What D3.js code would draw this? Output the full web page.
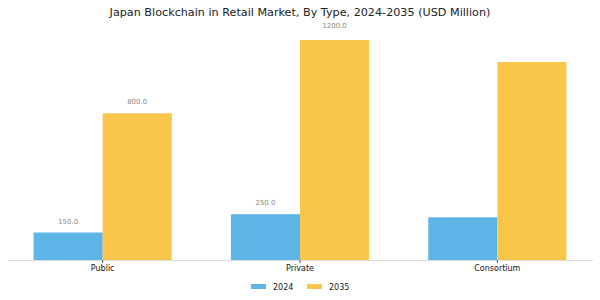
<!DOCTYPE html>
<html>
<head>
<meta charset="utf-8">
<script src="https://cdn.jsdelivr.net/npm/d3@7"></script>
<style>
  body { margin: 0; background: #fff; }
  svg { display: block; font-family: "DejaVu Sans", sans-serif; }
</style>
</head>
<body>
<div id="chart"></div>
<script>
const categories = ["Public", "Private", "Consortium"];
const years = ["2024", "2035"];
const values2024 = [150, 250, 233];
const values2035 = [800, 1200, 1080];
// the reference prints value labels only on the first two groups
const showLabel = [true, true, false];

const width = 600, height = 300;
const baseline = 260;

const svg = d3.select("#chart").append("svg")
    .attr("width", width)
    .attr("height", height);

const color = d3.scaleOrdinal().domain(years).range(["#5DB4E6", "#F9C54B"]);

const x = d3.scaleBand().domain(categories).range([4, 596])
    .paddingInner(0.3).paddingOuter(0.15);
const xSub = d3.scaleBand().domain(years).range([0, x.bandwidth()]);
const y = d3.scaleLinear().domain([0, 1200]).range([baseline, 40]);

const rows = categories.map((c, i) => ({
    cat: c,
    vals: [
        {year: "2024", v: values2024[i], label: showLabel[i]},
        {year: "2035", v: values2035[i], label: showLabel[i]}
    ]
}));

svg.append("text")
    .attr("x", width / 2).attr("y", 16)
    .attr("text-anchor", "middle")
    .attr("font-size", "11.2px")
    .attr("fill", "#222")
    .text("Japan Blockchain in Retail Market, By Type, 2024-2035 (USD Million)");

const groups = svg.append("g").selectAll("g").data(rows).join("g")
    .attr("transform", d => `translate(${x(d.cat)},0)`);

groups.selectAll("rect").data(d => d.vals).join("rect")
    .attr("x", d => xSub(d.year))
    .attr("y", d => y(d.v))
    .attr("width", xSub.bandwidth())
    .attr("height", d => baseline - y(d.v))
    .attr("fill", d => color(d.year));

groups.selectAll("text.val").data(d => d.vals.filter(v => v.label)).join("text")
    .attr("class", "val")
    .attr("x", d => xSub(d.year) + xSub.bandwidth() / 2)
    .attr("y", d => y(d.v) - (d.v >= 1200 ? 12 : 9))
    .attr("text-anchor", "middle")
    .attr("font-size", "7px")
    .attr("fill", "#888")
    .text(d => d3.format(".1f")(d.v));

// x axis
svg.append("line")
    .attr("x1", 8).attr("x2", 593)
    .attr("y1", baseline + 0.5).attr("y2", baseline + 0.5)
    .attr("stroke", "#ddd");

const xAxis = svg.append("g")
    .attr("transform", `translate(0,${baseline})`)
    .call(d3.axisBottom(x).tickSize(3).tickPadding(2));
xAxis.select(".domain").remove();
xAxis.selectAll(".tick line").attr("stroke", "#555");
xAxis.selectAll(".tick text")
    .attr("font-family", "DejaVu Sans")
    .attr("font-size", "8px")
    .attr("fill", "#111");

// legend
const legend = svg.append("g").attr("transform", "translate(251,284)");
const items = legend.selectAll("g").data(years).join("g")
    .attr("transform", (d, i) => `translate(${i * 56},0)`);
items.append("rect")
    .attr("width", 15).attr("height", 5)
    .attr("fill", d => color(d));
items.append("text")
    .attr("x", 22).attr("y", 5.5)
    .attr("font-size", "8px")
    .attr("fill", "#222")
    .text(d => d);
</script>
</body>
</html>
